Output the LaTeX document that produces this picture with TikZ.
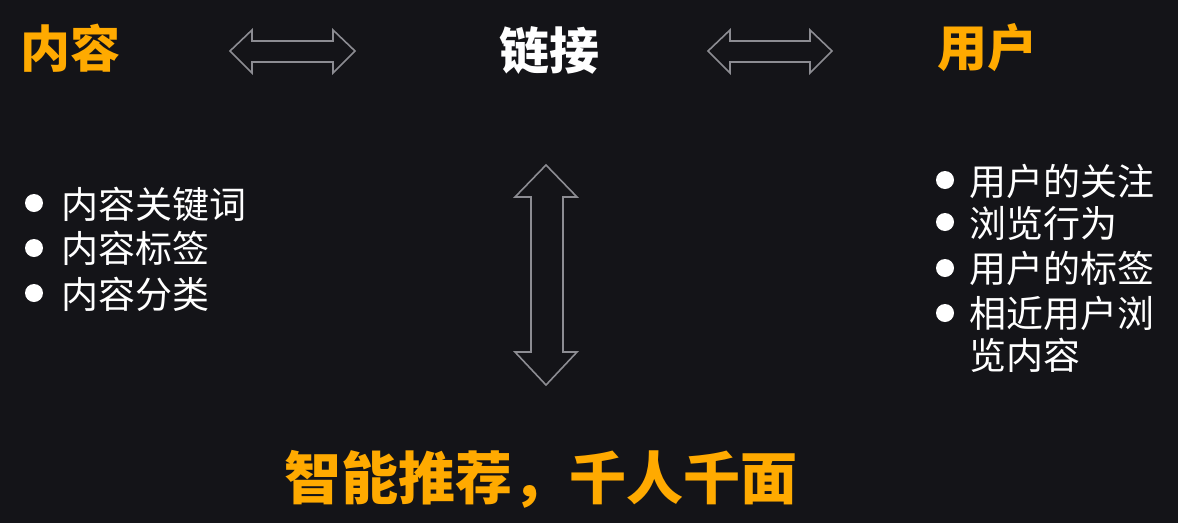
\documentclass[tikz,border=0pt]{standalone}
\usepackage{fontspec}
\newfontfamily\cjk{Noto Sans CJK SC}
\definecolor{bg}{HTML}{141418}
\definecolor{orng}{HTML}{FFAA00}
\definecolor{arrowgray}{HTML}{8C8C92}
\begin{document}
\begin{tikzpicture}[x=1pt,y=-1pt,
  title/.style={inner sep=0pt,font=\cjk\bfseries\fontsize{50}{56}\selectfont},
  item/.style={inner sep=0pt,anchor=west,text=white,font=\cjk\fontsize{37}{42}\selectfont},
  bullet/.style={circle,fill=white,minimum size=18pt,inner sep=0pt},
  fatarrow/.style={draw=arrowgray,line width=1.6pt,line join=miter}]
\fill[bg] (0,0) rectangle (1178,523);
\useasboundingbox (0,0) rectangle (1178,523);
% titles
\node[title,text=orng,anchor=west] (content) at (20,48) {内容};
\node[title,text=white] (link) at (549,50) {链接};
\node[title,text=orng,anchor=west] (user) at (937,48) {用户};
% horizontal double arrows
\coordinate (a1) at (230,51);
\draw[fatarrow] (a1) -- ++(22,-21) -- ++(0,11) -- ++(81,0) -- ++(0,-11) -- ++(22,21) -- ++(-22,22) -- ++(0,-11) -- ++(-81,0) -- ++(0,11) -- cycle;
\coordinate (a2) at (708,51);
\draw[fatarrow] (a2) -- ++(22,-21) -- ++(0,11) -- ++(80,0) -- ++(0,-11) -- ++(22,21) -- ++(-22,22) -- ++(0,-11) -- ++(-80,0) -- ++(0,11) -- cycle;
% vertical double arrow
\coordinate (v) at (546,165);
\draw[fatarrow] (v) -- ++(31,32) -- ++(-14,0) -- ++(0,155) -- ++(14,0) -- ++(-31,33) -- ++(-31,-33) -- ++(16,0) -- ++(0,-155) -- ++(-16,0) -- cycle;
% left list
\node[bullet] (lb1) at (34,203) {};
\node[bullet] (lb2) at (34,248) {};
\node[bullet] (lb3) at (34,293) {};
\node[item] (l1) at (61,204) {内容关键词};
\node[item] (l2) at (61,248) {内容标签};
\node[item] (l3) at (61,294) {内容分类};
% right list
\node[bullet] (rb1) at (945,180) {};
\node[bullet] (rb2) at (945,222) {};
\node[bullet] (rb3) at (945,268) {};
\node[bullet] (rb4) at (945,313) {};
\node[item] (r1) at (969,181) {用户的关注};
\node[item] (r2) at (969,223) {浏览行为};
\node[item] (r3) at (969,268) {用户的标签};
\node[item] (r4) at (969,313) {相近用户浏};
\node[item] (r5) at (969,355) {览内容};
% bottom
\node[inner sep=0pt,text=orng,font=\cjk\bfseries\fontsize{57}{62}\selectfont] (slogan) at (541,479) {智能推荐，千人千面};
\end{tikzpicture}
\end{document}
